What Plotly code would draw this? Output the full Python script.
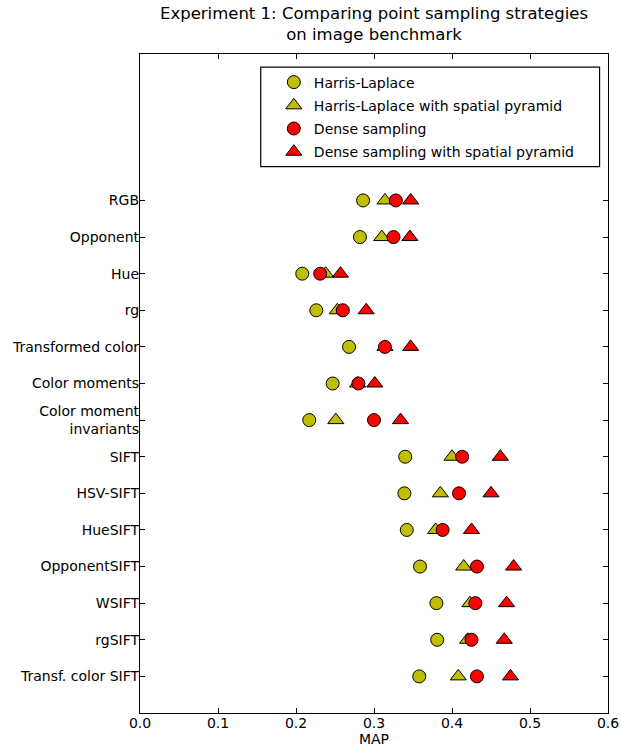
import plotly.graph_objects as go

categories = ["RGB", "Opponent", "Hue", "rg", "Transformed color", "Color moments",
              "Color moment<br>invariants", "SIFT", "HSV-SIFT", "HueSIFT",
              "OpponentSIFT", "WSIFT", "rgSIFT", "Transf. color SIFT"]

harris = [0.286, 0.282, 0.208, 0.226, 0.268, 0.247, 0.217,
          0.340, 0.339, 0.342, 0.359, 0.380, 0.381, 0.358]
harris_pyr = [0.314, 0.310, 0.238, 0.253, 0.314, 0.279, 0.251,
              0.400, 0.385, 0.379, 0.415, 0.423, 0.420, 0.408]
dense = [0.328, 0.325, 0.231, 0.260, 0.314, 0.280, 0.300,
         0.413, 0.409, 0.388, 0.432, 0.430, 0.425, 0.432]
dense_pyr = [0.347, 0.346, 0.257, 0.290, 0.347, 0.301, 0.334,
             0.462, 0.450, 0.425, 0.479, 0.470, 0.467, 0.475]

series = [
    ("Harris-Laplace", harris, "circle", "#bfbf00", 13),
    ("Harris-Laplace with spatial pyramid", harris_pyr, "triangle-up", "#bfbf00", 14),
    ("Dense sampling", dense, "circle", "#ff0000", 13),
    ("Dense sampling with spatial pyramid", dense_pyr, "triangle-up", "#ff0000", 14),
]

fig = go.Figure()
for i, (name, vals, sym, col, sz) in enumerate(series):
    fig.add_trace(go.Scatter(
        x=vals, y=categories, mode="markers", name=name,
        legendgroup="g%d" % i,
        marker=dict(symbol=sym, color=col, size=sz,
                    line=dict(color="black", width=1)),
    ))

font = "DejaVu Sans, sans-serif"
fig.update_layout(
    width=621, height=749,
    margin=dict(l=140, r=12.5, t=54, b=36, autoexpand=False),
    paper_bgcolor="white", plot_bgcolor="white",
    font=dict(family=font, size=14, color="black"),
    showlegend=True,
    legend=dict(x=0.286, y=0.981, xanchor="left", yanchor="top",
                borderwidth=0, bgcolor="rgba(0,0,0,0)",
                tracegroupgap=2, font=dict(family=font, size=14)),
    xaxis=dict(range=[0, 0.6], dtick=0.1, tick0=0, tickformat=".1f",
               automargin=False, ticklabelstandoff=-3,
               showgrid=False, zeroline=False, showline=True, linecolor="black",
               linewidth=1.3, mirror="ticks", ticks="inside", ticklen=5,
               tickcolor="black", tickfont=dict(size=14),
               title=dict(text="MAP", font=dict(size=14), standoff=2)),
    yaxis=dict(type="category", categoryorder="array",
               categoryarray=categories[::-1], range=[-1, 17],
               automargin=False, ticklabelstandoff=-3,
               showgrid=False, zeroline=False, showline=True, linecolor="black",
               linewidth=1.3, mirror="ticks", ticks="inside", ticklen=5,
               tickcolor="black", tickfont=dict(size=14)),
    shapes=[dict(type="rect", xref="paper", yref="paper",
                 x0=0.258, x1=0.982, y0=0.829, y1=0.980,
                 line=dict(color="black", width=1.2), fillcolor="white",
                 layer="below")],
    annotations=[dict(text="Experiment 1: Comparing point sampling strategies<br>on image benchmark",
                      xref="paper", yref="paper", x=0.5, y=1, xanchor="center",
                      yanchor="bottom", yshift=8, showarrow=False,
                      font=dict(family=font, size=16.5, color="black"))],
)

fig.write_html("out.html", config={"displayModeBar": False},
               post_script="document.body.style.margin='0';document.body.style.overflow='hidden';")
